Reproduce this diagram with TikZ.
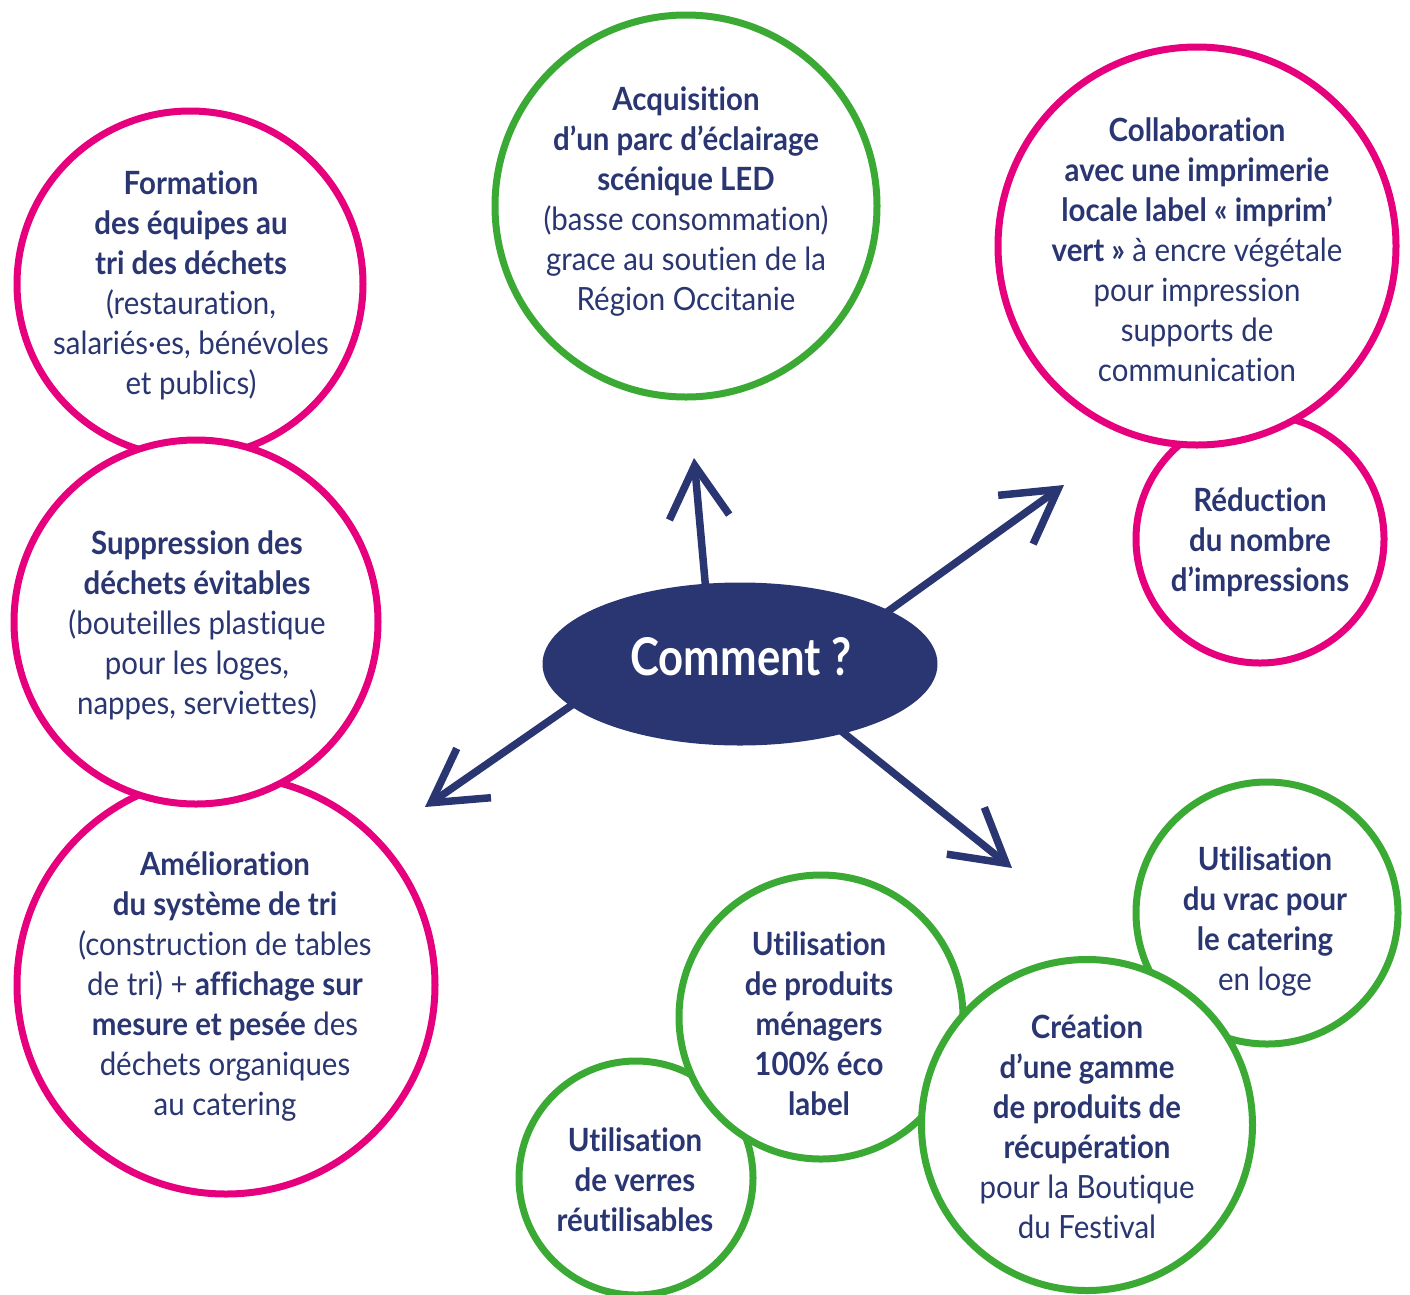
\documentclass[tikz,border=0pt]{standalone}
\usepackage{fontspec}
\setmainfont{Lato}[FakeStretch=0.92,Ligatures=NoCommon]
\newfontfamily\comfont{Lato}[FakeStretch=0.84,Ligatures=NoCommon]
\usetikzlibrary{shapes.geometric,arrows.meta}
\definecolor{navy}{HTML}{2A3671}
\definecolor{pinkc}{HTML}{E6007E}
\definecolor{greenc}{HTML}{3BAA35}
\tikzset{
  bubble/.style={circle,draw,line width=7pt,fill=white,inner sep=0pt},
  pinkbub/.style={bubble,draw=pinkc},
  greenbub/.style={bubble,draw=greenc},
  btext/.style={align=center,text=navy,inner sep=0pt,font=\fontsize{32}{40}\selectfont},
  arrowline/.style={draw=navy,line width=7.5pt,-{Straight Barb[length=52pt,width=60pt]}},
}
\begin{document}
\begin{tikzpicture}[x=1pt,y=-1pt]
\useasboundingbox (0,0) rectangle (1410,1294);
% left column
\node[pinkbub,minimum size=346pt] (cform) at (190,284) {};
\node[pinkbub,minimum size=418pt] (camel) at (226,985) {};
\node[pinkbub,minimum size=364pt] (csupp) at (196,622) {};
% top
\node[greenbub,minimum size=382pt] (cacq) at (686,206) {};
\node[pinkbub,minimum size=248pt] (cred) at (1260,539) {};
\node[pinkbub,minimum size=398pt] (ccoll) at (1197,246) {};
% bottom
\node[greenbub,minimum size=234pt] (cverr) at (636,1178) {};
\node[greenbub,minimum size=284pt] (cmen) at (821,1017) {};
\node[greenbub,minimum size=262pt] (cvrac) at (1267,913) {};
\node[greenbub,minimum size=331pt] (ccrea) at (1087,1125) {};
% texts
\node[btext] (tform) at (191,285) {\textbf{Formation}\\\textbf{des équipes au}\\\textbf{tri des déchets}\\(restauration,\\salariés·es, bénévoles\\et publics)};
\node[btext] (tsupp) at (197,625) {\textbf{Suppression des}\\\textbf{déchets évitables}\\(bouteilles plastique\\pour les loges,\\nappes, serviettes)};
\node[btext] (tamel) at (225,987) {\textbf{Amélioration}\\\textbf{du système de tri}\\(construction de tables\\de tri) + \textbf{affichage sur}\\\textbf{mesure et pesée} des\\déchets organiques\\au catering};
\node[btext] (tacq) at (686,202) {\textbf{Acquisition}\\\textbf{d’un parc d’éclairage}\\\textbf{scénique LED}\\(basse consommation)\\grace au soutien de la\\Région Occitanie};
\node[btext] (tcoll) at (1197,250) {\textbf{Collaboration}\\\textbf{avec une imprimerie}\\\textbf{locale label « imprim’}\\\textbf{vert »} à encre végétale\\pour impression\\supports de\\communication};
\node[btext] (tred) at (1260,542) {\textbf{Réduction}\\\textbf{du nombre}\\\textbf{d’impressions}};
\node[btext] (tmen) at (819,1024) {\textbf{Utilisation}\\\textbf{de produits}\\\textbf{ménagers}\\\textbf{100\% éco}\\\textbf{label}};
\node[btext] (tverr) at (635,1180) {\textbf{Utilisation}\\\textbf{de verres}\\\textbf{réutilisables}};
\node[btext] (tvrac) at (1265,922) {\textbf{Utilisation}\\\textbf{du vrac pour}\\\textbf{le catering}\\en loge};
\node[btext] (tcrea) at (1087,1127) {\textbf{Création}\\\textbf{d’une gamme}\\\textbf{de produits de}\\\textbf{récupération}\\pour la Boutique\\du Festival};
% arrows
\coordinate (sUp) at (706,592);
\coordinate (eUp) at (694,458);
\coordinate (sNE) at (880,617);
\coordinate (eNE) at (1064,485);
\coordinate (sSW) at (595,689);
\coordinate (eSW) at (425,807);
\coordinate (sSE) at (825,718);
\coordinate (eSE) at (1012,868);
\draw[arrowline] (sUp) -- (eUp);
\draw[arrowline] (sNE) -- (eNE);
\draw[arrowline] (sSW) -- (eSW);
\draw[arrowline] (sSE) -- (eSE);
% center
\node[ellipse,fill=navy,minimum width=395pt,minimum height=163pt,inner sep=0pt] (ell) at (740,664) {};
\node[text=white,font=\comfont\fontsize{52}{60}\selectfont\bfseries,inner sep=0pt] (tcom) at (741,657) {Comment ?};
\end{tikzpicture}
\end{document}
